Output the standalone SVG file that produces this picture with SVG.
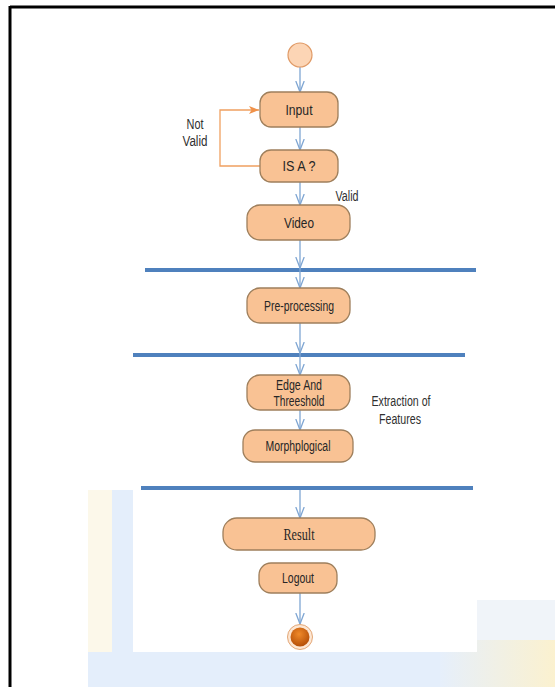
<svg xmlns="http://www.w3.org/2000/svg" width="555" height="687" viewBox="0 0 555 687">
<defs>
<style>
.node{fill:#f9c294;stroke:#9e7f5c;stroke-width:1.3}
.lbl{font-family:"Liberation Sans",Arial,sans-serif;font-size:14px;fill:#262626;text-anchor:middle}
.ser{font-family:"Liberation Serif","Times New Roman",serif;font-size:16px;fill:#262626;text-anchor:middle}
.note{font-family:"Liberation Sans",Arial,sans-serif;font-size:14px;fill:#303030;text-anchor:middle}
.flow{stroke:#7fa6d3;stroke-width:1.3;fill:none}
.bar{fill:#4f81bd}
</style>
<marker id="v" viewBox="0 0 12 10" refX="11.5" refY="5" markerWidth="12" markerHeight="10" markerUnits="userSpaceOnUse" orient="auto">
<path d="M0.5,0.8 L11.5,5 L0.5,9.2" fill="none" stroke="#7fa6d3" stroke-width="1.3"/>
</marker>
<marker id="o" viewBox="0 0 10 8" refX="10" refY="4" markerWidth="10" markerHeight="8" markerUnits="userSpaceOnUse" orient="auto">
<path d="M0,0 L10,4 L0,8 L2.5,4 Z" fill="#f0924a"/>
</marker>
<radialGradient id="endg" cx="45%" cy="35%" r="65%">
<stop offset="0" stop-color="#f08a2a"/>
<stop offset="1" stop-color="#b54f08"/>
</radialGradient>
<linearGradient id="yel" x1="0" y1="0" x2="1" y2="0">
<stop offset="0" stop-color="#e6effb"/>
<stop offset="1" stop-color="#fbf1cf"/>
</linearGradient>
</defs>
<rect x="0" y="0" width="555" height="687" fill="#ffffff"/>
<g id="background">
<rect x="88" y="490" width="24" height="197" fill="#fcf8ea"/>
<rect x="112" y="490" width="21" height="197" fill="#e4eefb"/>
<rect x="477" y="600" width="78" height="52" fill="#f0f4f9"/>
<rect x="88" y="652" width="467" height="35" fill="#e4eefb"/>
<rect x="440" y="640" width="115" height="47" fill="url(#yel)"/>
<rect x="133" y="10" width="344" height="642" fill="#ffffff"/>
</g>
<g id="frame">
<line x1="10" y1="7" x2="555" y2="7" stroke="#000" stroke-width="3"/>
<line x1="10" y1="6" x2="10" y2="687" stroke="#000" stroke-width="3"/>
</g>
<g id="bars">
<rect class="bar" x="145" y="268" width="331" height="4"/>
<rect class="bar" x="133" y="353" width="332" height="4"/>
<rect class="bar" x="141" y="486" width="332" height="4"/>
</g>
<g id="connectors">
<line class="flow" x1="300" y1="67" x2="300" y2="92" marker-end="url(#v)"/>
<line class="flow" x1="300" y1="127" x2="300" y2="150" marker-end="url(#v)"/>
<line class="flow" x1="300" y1="182" x2="300" y2="205" marker-end="url(#v)"/>
<line class="flow" x1="300" y1="240" x2="300" y2="268" marker-end="url(#v)"/>
<line class="flow" x1="300" y1="268" x2="300" y2="288" marker-end="url(#v)"/>
<line class="flow" x1="300" y1="323" x2="300" y2="353" marker-end="url(#v)"/>
<line class="flow" x1="300" y1="353" x2="300" y2="375" marker-end="url(#v)"/>
<line class="flow" x1="300" y1="410" x2="300" y2="430" marker-end="url(#v)"/>
<line class="flow" x1="300" y1="490" x2="300" y2="518" marker-end="url(#v)"/>
<line class="flow" x1="300" y1="593" x2="300" y2="624" marker-end="url(#v)"/>
<polyline points="260,166 220,166 220,110 259,110" fill="none" stroke="#f0a060" stroke-width="1.3" marker-end="url(#o)"/>
</g>
<g id="start">
<circle cx="300" cy="55" r="12" fill="#fcd5b5" stroke="#e09a66" stroke-width="1.2"/>
</g>
<g id="input">
<rect class="node" x="260" y="92" width="78" height="35" rx="11"/>
<text class="lbl" x="299" y="114.5" textLength="27" lengthAdjust="spacingAndGlyphs">Input</text>
</g>
<g id="isa">
<rect class="node" x="260" y="150" width="78" height="32" rx="11"/>
<text class="lbl" x="299" y="171" textLength="33" lengthAdjust="spacingAndGlyphs">IS A ?</text>
</g>
<g id="video">
<rect class="node" x="247" y="205" width="103" height="35" rx="13"/>
<text class="lbl" x="299" y="227.5" textLength="30" lengthAdjust="spacingAndGlyphs">Video</text>
</g>
<g id="preprocessing">
<rect class="node" x="247" y="288" width="103" height="35" rx="13"/>
<text class="lbl" x="299" y="310.5" textLength="70" lengthAdjust="spacingAndGlyphs">Pre-processing</text>
</g>
<g id="edge">
<rect class="node" x="247" y="375" width="103" height="35" rx="13"/>
<text class="lbl" x="299" y="390" textLength="46" lengthAdjust="spacingAndGlyphs">Edge And</text>
<text class="lbl" x="299" y="405.5" textLength="51" lengthAdjust="spacingAndGlyphs">Threeshold</text>
</g>
<g id="morph">
<rect class="node" x="243" y="430" width="110" height="32" rx="12"/>
<text class="lbl" x="298" y="451" textLength="65" lengthAdjust="spacingAndGlyphs">Morphplogical</text>
</g>
<g id="result">
<rect class="node" x="223" y="518" width="152" height="32" rx="14"/>
<text class="ser" x="299" y="539.5" textLength="31" lengthAdjust="spacingAndGlyphs">Result</text>
</g>
<g id="logout">
<rect class="node" x="259" y="563" width="78" height="30" rx="12"/>
<text class="lbl" x="298" y="583" textLength="32" lengthAdjust="spacingAndGlyphs">Logout</text>
</g>
<g id="end">
<circle cx="300" cy="637" r="12.5" fill="#fde6d2" stroke="#e3a777" stroke-width="1"/>
<circle cx="300" cy="637" r="9.5" fill="url(#endg)"/>
</g>
<g id="labels">
<text class="note" x="195" y="129" textLength="17" lengthAdjust="spacingAndGlyphs">Not</text>
<text class="note" x="195" y="146" textLength="25" lengthAdjust="spacingAndGlyphs">Valid</text>
<text class="note" x="347" y="201" textLength="23" lengthAdjust="spacingAndGlyphs">Valid</text>
<text class="note" x="401" y="406" textLength="59" lengthAdjust="spacingAndGlyphs">Extraction of</text>
<text class="note" x="400" y="424" textLength="42" lengthAdjust="spacingAndGlyphs">Features</text>
</g>
</svg>
